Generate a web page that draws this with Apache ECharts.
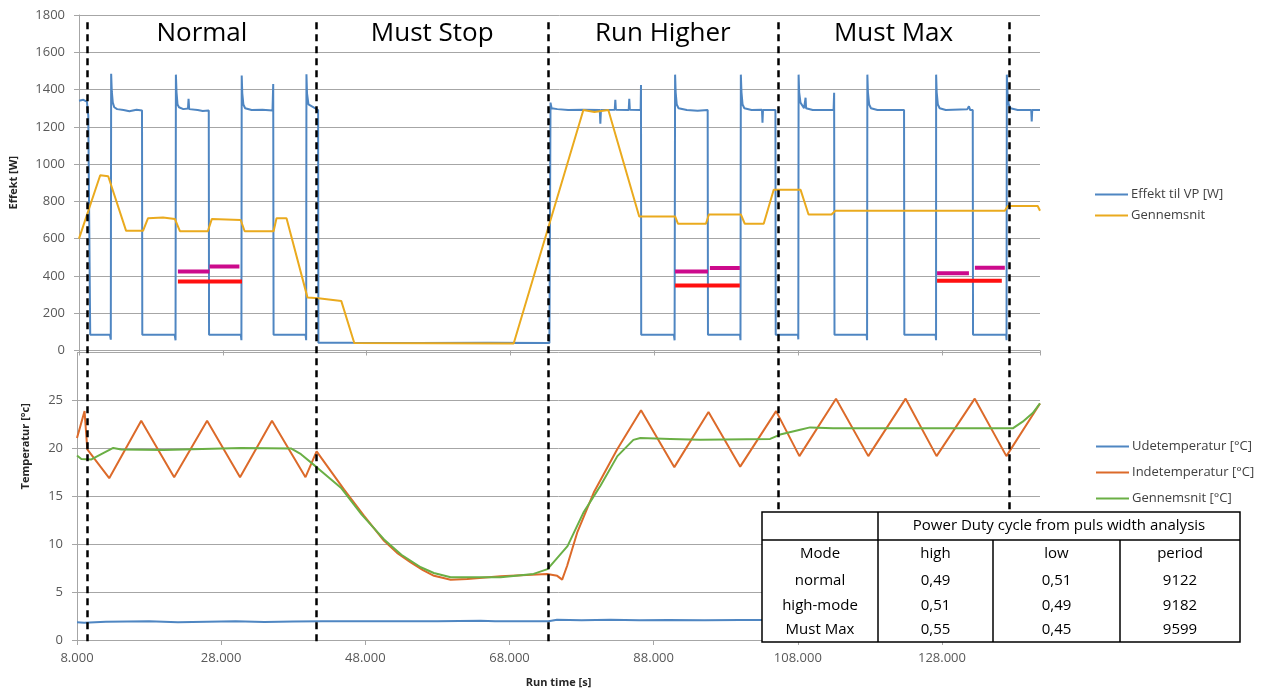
<!DOCTYPE html>
<html>
<head>
<meta charset="utf-8">
<script src="https://cdn.jsdelivr.net/npm/echarts@6/dist/echarts.min.js"></script>
<style>
  html, body { margin: 0; padding: 0; background: #fff; }
  #chart { width: 1275px; height: 689px; }
</style>
</head>
<body>
<div id="chart"></div>
<script>
// run time [s] vs. values
const power = [
  [8000,1340],[8600,1345],[9100,1335],[9290,1260],[9430,1265],[9560,85],
  [12300,85],[12420,58],[12470,1485],[12560,1390],[12700,1330],[12900,1305],[13300,1295],[14200,1290],[15000,1284],[16000,1292],[16760,1288],[16800,85],
  [21300,85],[21420,55],[21470,1480],[21560,1385],[21700,1320],[21900,1305],[22500,1295],[23150,1298],[23230,1350],[23320,1295],[24500,1290],[25200,1285],[26040,1288],[26080,85],
  [30500,85],[30580,55],[30620,1475],[30700,1380],[30850,1320],[31100,1300],[32000,1290],[33500,1292],[34900,1288],[35000,1430],[35050,85],
  [39500,85],[39580,55],[39620,1482],[39700,1380],[39900,1320],[40170,1310],[40800,1300],[41240,1290],[41280,42],
  [46000,41],[55000,40],[65000,41],[73400,40],
  [73550,1330],[73700,1300],[74500,1295],[76000,1290],[78000,1292],[80400,1290],[80480,1217],[80560,1290],[82480,1292],[82560,1345],[82640,1292],[84420,1290],[84500,1350],[84580,1292],[86080,1290],[86130,1425],[86160,85],
  [90700,85],[90800,55],[90870,1480],[90950,1385],[91100,1320],[91350,1300],[92500,1290],[94000,1286],[95400,1290],[95440,85],
  [99900,85],[99960,55],[100010,1480],[100100,1385],[100250,1320],[100500,1300],[101500,1290],[102950,1292],[103020,1222],[103090,1290],[104820,1290],[104860,85],
  [107950,85],[108000,60],[108040,1480],[108120,1385],[108300,1330],[108800,1300],[108950,1300],[109010,1356],[109080,1300],[110000,1290],[112900,1290],[112980,1383],[113030,85],
  [117500,85],[117560,55],[117600,1480],[117680,1385],[117850,1320],[118100,1300],[119000,1290],[122700,1290],[122740,85],
  [127090,85],[127150,55],[127160,1480],[127240,1385],[127400,1320],[127650,1300],[128500,1290],[131500,1295],[131720,1310],[131900,1290],[132250,1290],[132290,85],
  [136900,85],[136950,55],[136990,1480],[137080,1385],[137250,1320],[137500,1300],[138500,1290],[140380,1290],[140450,1229],[140520,1290],[141600,1290]
];
const powerAvg = [
  [8000,600],[10950,940],[12060,935],[14550,642],[16900,642],[17600,710],[19680,714],[21340,705],[22030,640],
  [25910,640],[26460,705],[30480,700],[31030,640],[35050,640],[35460,710],[36850,710],[39760,285],[41280,280],
  [44470,265],[46270,40],[68430,38],[78120,1290],[79650,1280],[81590,1290],[85880,719],[90870,719],[91280,680],
  [95160,680],[95570,730],[100010,730],[100560,680],[103190,680],[104580,862],[108320,862],[109420,730],
  [112610,730],[113160,750],[134700,750],[134900,754],[135200,750],[136710,750],[137120,775],[141280,775],[141600,750]
];
const dutyHigh = [
  [21750,424],[26140,424],[26140,null],[26140,451],[30300,451],[30300,null],
  [90870,424],[95440,424],[95440,null],[95710,442],[99870,442],[99870,null],
  [127290,415],[131720,415],[131720,null],[132550,444],[136710,444]
];
const dutyLow = [
  [21750,370],[30660,370],[30660,null],
  [90870,349],[99870,349],[99870,null],
  [127290,374],[136290,374]
];
const outdoorTemp = [
  [8000,1.85],[9000,1.8],[12000,1.9],[18000,1.95],[22000,1.85],[26000,1.9],[30000,1.95],[34000,1.88],[38000,1.92],
  [42000,1.95],[50000,1.95],[58000,1.95],[64000,2.0],[66000,1.95],[73400,1.95],[74600,2.12],[78000,2.05],[82000,2.12],
  [86000,2.05],[90000,2.1],[95000,2.05],[100000,2.1],[105000,2.1],[141600,2.1]
];
const indoorTemp = [
  [8000,21.1],[9050,23.9],[9430,19.9],[12470,16.9],[16910,22.9],[21480,17.0],[26050,22.9],[30620,17.0],[35050,22.9],
  [39700,17.0],[41240,19.7],[45060,15.7],[47800,13.0],[50600,10.35],[52400,9.1],[54300,8.1],[56000,7.3],[57530,6.7],
  [59840,6.3],[62150,6.37],[66770,6.65],[73230,6.9],[74620,6.7],[75310,6.3],[76000,7.75],[77390,11.2],[79690,15.4],
  [82930,19.9],[86250,24.0],[90870,18.05],[95610,23.8],[100010,18.1],[104990,23.9],[108220,19.2],[113300,25.2],
  [117780,19.2],[122960,25.2],[127250,19.2],[132550,25.2],[136940,19.2],[141600,24.7]
];
const avgTemp = [
  [8000,19.26],[8600,18.9],[10000,18.85],[11370,19.4],[13030,20.05],[14140,19.9],[20000,19.85],[30760,20.05],
  [37680,20.0],[39070,19.4],[41240,18.05],[44610,15.9],[47500,13.1],[50600,10.5],[53000,8.9],[55690,7.6],
  [57500,7.0],[59840,6.55],[66770,6.55],[71340,6.9],[73280,7.4],[76050,9.8],[78260,13.3],[80620,16.1],
  [82970,19.2],[85190,20.9],[86160,21.1],[90310,21.0],[94470,20.9],[104160,21.0],[105550,21.45],[108320,21.95],
  [109700,22.2],[112890,22.1],[137820,22.1],[139200,22.8],[140590,23.7],[141600,24.7]
];
const modeBounds = [9400, 41250, 73320, 105230, 137330];
const modeNames = ['Normal', 'Must Stop', 'Run Higher', 'Must Max'];

const tableTitle = 'Power Duty cycle from puls width analysis';
const tableHeader = ['Mode', 'high', 'low', 'period'];
const tableRows = [
  ['normal', '0,49', '0,51', '9122'],
  ['high-mode', '0,51', '0,49', '9182'],
  ['Must Max', '0,55', '0,45', '9599']
];

const FONT = '"Open Sans", "Liberation Sans", sans-serif';
const grey = '#a6a6a6';
const labelCol = '#595959';

// table drawn as graphic
const colX = [762, 878, 993, 1120, 1240];
const rowY = [512, 540, 568, 594, 618, 642];
const tbl = [];
tbl.push({ type: 'rect', z: 100, shape: { x: colX[0], y: rowY[0], width: colX[4] - colX[0], height: rowY[5] - rowY[0] },
  style: { fill: '#fff', stroke: '#000', lineWidth: 1.5 } });
const hline = (x1, x2, y) => tbl.push({ type: 'line', z: 101, shape: { x1, y1: y, x2, y2: y }, style: { stroke: '#000', lineWidth: 1.5 } });
const vline = (x, y1, y2) => tbl.push({ type: 'line', z: 101, shape: { x1: x, y1, x2: x, y2 }, style: { stroke: '#000', lineWidth: 1.5 } });
hline(colX[0], colX[4], rowY[1]);
vline(colX[1], rowY[0], rowY[5]);
vline(colX[2], rowY[1], rowY[5]);
vline(colX[3], rowY[1], rowY[5]);
const cellText = (t, x, y) => tbl.push({ type: 'text', z: 102,
  style: { text: t, x, y, align: 'center', verticalAlign: 'middle', fontSize: 15, fontFamily: FONT, fill: '#000' } });
cellText(tableTitle, (colX[1] + colX[4]) / 2, (rowY[0] + rowY[1]) / 2);
[tableHeader].concat(tableRows).forEach((row, r) => {
  row.forEach((t, c) => cellText(t, (colX[c] + colX[c + 1]) / 2, (rowY[r + 1] + rowY[r + 2]) / 2));
});

const xBase = { type: 'value', min: 8000, max: 141600, interval: 20000 };
const legendBase = { orient: 'vertical', icon: 'rect', itemWidth: 33, itemHeight: 2,
  textStyle: { fontSize: 13, color: '#404040', fontFamily: FONT, padding: [0, 0, 0, -2] } };

const chart = echarts.init(document.getElementById('chart'));
chart.setOption({
  animation: false,
  backgroundColor: '#fff',
  textStyle: { fontFamily: FONT },
  grid: [
    { left: 77, top: 15, width: 963, height: 335.5 },
    { left: 77, top: 352.7, width: 963, height: 288.6 },
    { left: 77, top: 20, width: 963, height: 621.3 }
  ],
  legend: [
    Object.assign({ left: 1090, top: 183, itemGap: 8, data: ['Effekt til VP [W]', 'Gennemsnit'] }, legendBase),
    Object.assign({ left: 1091, top: 435, itemGap: 13, data: ['Udetemperatur [°C]', 'Indetemperatur [°C]', 'Gennemsnit [°C]'] }, legendBase)
  ],
  xAxis: [
    Object.assign({ gridIndex: 0,
      axisLine: { lineStyle: { color: grey } },
      axisTick: { show: true, length: 5, lineStyle: { color: grey } },
      axisLabel: { show: false }, splitLine: { show: false } }, xBase),
    Object.assign({ gridIndex: 1,
      name: 'Run time [s]', nameLocation: 'middle', nameGap: 37,
      nameTextStyle: { fontWeight: 'bold', fontSize: 11, color: '#262626' },
      axisLine: { lineStyle: { color: grey } },
      axisTick: { show: true, length: 5, lineStyle: { color: grey } },
      axisLabel: { fontSize: 13, color: labelCol, margin: 12, showMaxLabel: false,
        formatter: v => (v / 1000).toFixed(3) },
      splitLine: { show: false } }, xBase),
    Object.assign({ gridIndex: 2, show: false }, xBase)
  ],
  yAxis: [
    { type: 'value', gridIndex: 0, min: 0, max: 1800, interval: 200,
      name: 'Effekt [W]', nameLocation: 'middle', nameGap: 60,
      nameTextStyle: { fontWeight: 'bold', fontSize: 11, color: '#262626' },
      axisLine: { show: true, lineStyle: { color: grey } },
      axisTick: { show: true, length: 5, lineStyle: { color: grey } },
      axisLabel: { fontSize: 13, color: labelCol, margin: 14, formatter: v => String(v) },
      splitLine: { lineStyle: { color: grey } } },
    { type: 'value', gridIndex: 1, min: 0, max: 30, interval: 5,
      name: 'Temperatur [°c]', nameLocation: 'middle', nameGap: 46,
      nameTextStyle: { fontWeight: 'bold', fontSize: 11, color: '#262626', padding: [0, 0, 0, 100] },
      axisLine: { show: true, lineStyle: { color: grey } },
      axisTick: { show: true, length: 5, lineStyle: { color: grey } },
      axisLabel: { fontSize: 13, color: labelCol, margin: 14, showMaxLabel: false, formatter: v => String(v) },
      splitLine: { lineStyle: { color: grey } } },
    { type: 'value', gridIndex: 2, min: 0, max: 1, show: false }
  ],
  series: [
    { name: 'Effekt til VP [W]', type: 'line', xAxisIndex: 0, yAxisIndex: 0, data: power,
      symbol: 'none', lineStyle: { width: 2, color: '#4f86c2' }, itemStyle: { color: '#4f86c2' } },
    { name: 'Gennemsnit', type: 'line', xAxisIndex: 0, yAxisIndex: 0, data: powerAvg,
      symbol: 'none', lineStyle: { width: 2, color: '#eaaa1e' }, itemStyle: { color: '#eaaa1e' } },
    { name: 'Duty low', type: 'line', xAxisIndex: 0, yAxisIndex: 0, data: dutyLow,
      symbol: 'none', lineStyle: { width: 4, color: '#ff1010' }, itemStyle: { color: '#ff1010' } },
    { name: 'Duty high', type: 'line', xAxisIndex: 0, yAxisIndex: 0, data: dutyHigh,
      symbol: 'none', lineStyle: { width: 4, color: '#cc0a8c' }, itemStyle: { color: '#cc0a8c' } },
    { name: 'Udetemperatur [°C]', type: 'line', xAxisIndex: 1, yAxisIndex: 1, data: outdoorTemp,
      symbol: 'none', lineStyle: { width: 2, color: '#4f86c2' }, itemStyle: { color: '#4f86c2' } },
    { name: 'Indetemperatur [°C]', type: 'line', xAxisIndex: 1, yAxisIndex: 1, data: indoorTemp,
      symbol: 'none', lineStyle: { width: 2, color: '#dc6a2a' }, itemStyle: { color: '#dc6a2a' } },
    { name: 'Gennemsnit [°C]', type: 'line', xAxisIndex: 1, yAxisIndex: 1, data: avgTemp,
      symbol: 'none', lineStyle: { width: 2, color: '#6aaf45' }, itemStyle: { color: '#6aaf45' } },
    { name: 'modes', type: 'line', xAxisIndex: 2, yAxisIndex: 2, data: [], z: 5, silent: true,
      markLine: { symbol: ['none', 'none'], silent: true, label: { show: false },
        lineStyle: { color: '#000', width: 2.5, type: [7, 5] },
        data: modeBounds.map(b => ({ xAxis: b })) },
      markArea: { silent: true, itemStyle: { color: 'rgba(0,0,0,0)' },
        label: { show: true, position: 'insideTop', distance: 1, fontSize: 26, color: '#000', fontFamily: FONT },
        data: modeNames.map((n, i) => [{ name: n, xAxis: modeBounds[i] }, { xAxis: modeBounds[i + 1] }]) } }
  ],
  graphic: tbl
});
</script>
</body>
</html>
